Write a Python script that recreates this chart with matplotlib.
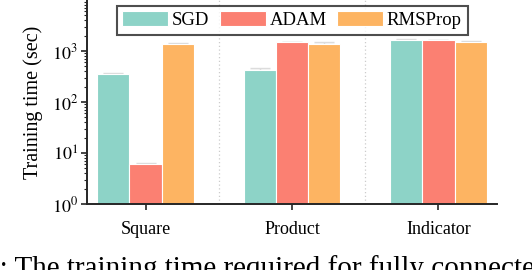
import numpy as np
import matplotlib
matplotlib.use("Agg")
import matplotlib.pyplot as plt
from matplotlib.ticker import LogLocator, NullFormatter

plt.rcParams['font.family'] = ['Liberation Serif', 'DejaVu Serif']
plt.rcParams['mathtext.fontset'] = 'stix'

categories = ["Square", "Product", "Indicator"]
optimizers = ["SGD", "ADAM", "RMSProp"]
sgd = [355, 424, 1667]
adam = [6.0, 1480, 1622]
rmsprop = [1390, 1390, 1500]
sgd_err = [20, 30, 60]
adam_err = [0.35, 50, 55]
rmsprop_err = [60, 90, 80]
colors = ["#8dd3c7", "#fb8072", "#fdb462"]
caption_prefix = "Figure 5"
caption = "Figure 5: The training time required for fully connected networks"

fig = plt.figure(figsize=(5.32, 2.70), dpi=100)
ax = fig.add_axes([87/532, 1 - 204/270, (497-87)/532, 204/270])

x = np.arange(len(categories))
w = 0.22
series = [sgd, adam, rmsprop]
errs = [sgd_err, adam_err, rmsprop_err]
for i, (vals, err, name, c) in enumerate(zip(series, errs, optimizers, colors)):
    pos = x + (i - 1) * w
    ax.errorbar(pos, vals, yerr=[np.zeros(len(vals)), err], fmt='none',
                ecolor='#dcdcdc', elinewidth=1.0, capsize=7, capthick=1.0, zorder=1)
    ax.bar(pos, vals, width=w, color=c, edgecolor='white', linewidth=0.8,
           label=name, zorder=2)

for sep in [0.5, 1.5]:
    ax.axvline(sep, color='#cccccc', linestyle=(0, (1, 2)), linewidth=0.9, zorder=0)

ax.set_yscale('log')
ax.set_ylim(1, 1e4)
ax.set_xlim(-0.40, 2.40)
ax.set_xticks(x)
ax.set_xticklabels(categories, fontsize=13)
ax.set_yticks([1, 10, 100, 1000])
ax.set_yticklabels([r'$10^{0}$', r'$10^{1}$', r'$10^{2}$', r'$10^{3}$'], fontsize=13)
ax.yaxis.set_minor_locator(LogLocator(base=10, subs=np.arange(2, 10)))
ax.yaxis.set_minor_formatter(NullFormatter())
ax.set_ylabel("Training time (sec)", fontsize=14.5)
ax.yaxis.set_label_coords(-0.107, 0.5)

for s in ['top', 'right']:
    ax.spines[s].set_visible(False)
for s in ['left', 'bottom']:
    ax.spines[s].set_color('#262626')
    ax.spines[s].set_linewidth(1.4)
ax.tick_params(axis='both', which='major', direction='out', length=4.5, width=1.2,
               color='#262626', pad=2)
ax.tick_params(axis='y', which='minor', direction='out', length=2.5, width=0.8,
               color='#262626')
ax.tick_params(axis='x', pad=8)

leg = ax.legend(loc='upper center', bbox_to_anchor=(0.5, 1 - 5.7/204), ncol=3,
                fontsize=13.5, frameon=True, fancybox=False, borderaxespad=0,
                handlelength=2.46, handleheight=0.8, handletextpad=0.2,
                columnspacing=0.55, borderpad=0.3)
leg.get_frame().set_edgecolor('#222222')
leg.get_frame().set_linewidth(1.5)

# caption (clipped at the bottom edge, as in the reference)
cap_size = 21
fig.canvas.draw()
r = fig.canvas.get_renderer()
tmp = fig.text(0, 0, caption_prefix, fontsize=cap_size)
pre_w = tmp.get_window_extent(renderer=r).width
tmp.remove()
fig.text((0 - pre_w) / 532, -6.3 / 270, caption, fontsize=cap_size,
         va='baseline', ha='left')

fig.savefig("out.png", dpi=100)
